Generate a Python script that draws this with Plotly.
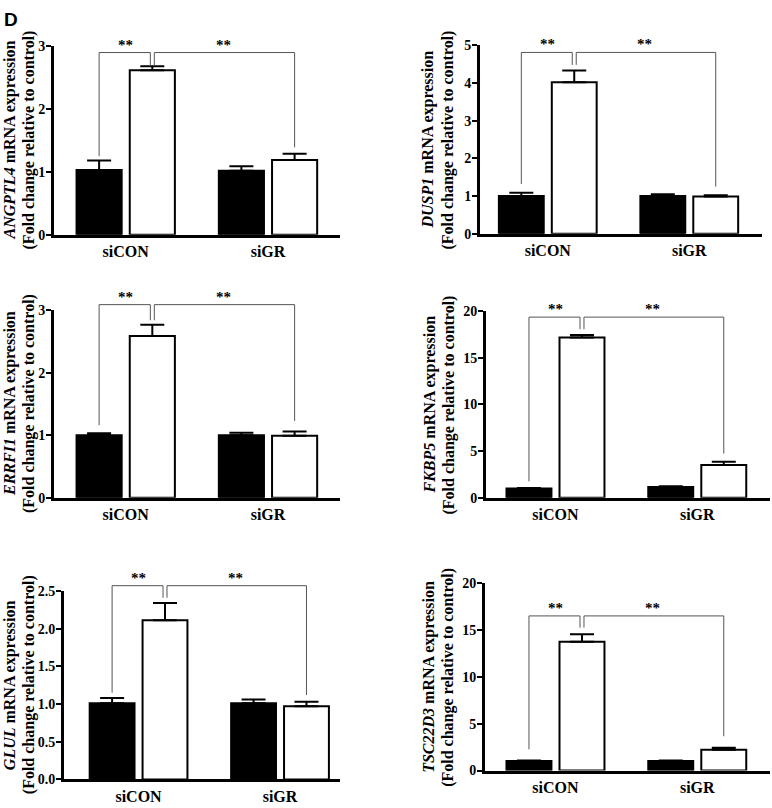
import plotly.graph_objects as go

W, H = 772, 808

groups = ['siCON', 'siGR']
genes = ['ANGPTL4', 'DUSP1', 'ERRFI1', 'FKBP5', 'GLUL', 'TSC22D3']

# black bars / white bars, with SEM (upper half only shown)
ANGPTL4_black = [1.03, 1.02]
ANGPTL4_black_err = [0.15, 0.07]
ANGPTL4_white = [2.62, 1.19]
ANGPTL4_white_err = [0.06, 0.10]

DUSP1_black = [1.00, 1.00]
DUSP1_black_err = [0.09, 0.05]
DUSP1_white = [4.02, 0.99]
DUSP1_white_err = [0.31, 0.03]

ERRFI1_black = [1.00, 1.00]
ERRFI1_black_err = [0.03, 0.04]
ERRFI1_white = [2.59, 0.99]
ERRFI1_white_err = [0.18, 0.07]

FKBP5_black = [0.98, 1.16]
FKBP5_black_err = [0.06, 0.06]
FKBP5_white = [17.19, 3.51]
FKBP5_white_err = [0.25, 0.35]

GLUL_black = [1.01, 1.01]
GLUL_black_err = [0.07, 0.05]
GLUL_white = [2.11, 0.97]
GLUL_white_err = [0.23, 0.06]

TSC22D3_black = [1.01, 1.01]
TSC22D3_black_err = [0.05, 0.05]
TSC22D3_white = [13.75, 2.23]
TSC22D3_white_err = [0.80, 0.20]

# y axis top and tick step
y_max = [3, 5, 3, 20, 2.5, 20]
y_dtick = [1, 1, 1, 5, 0.5, 5]
y_fmt = ['d', 'd', 'd', 'd', '.1f', 'd']

# significance brackets: top, left drop end, middle drop end, right drop end
bracket_top = [2.90, 4.81, 3.09, 19.37, 2.57, 16.5]
bracket_drops = [[1.25, 2.70, 1.39], [1.32, 4.48, 1.25], [1.16, 2.84, 1.23],
                 [1.75, 18.07, 4.74], [1.15, 2.41, 1.12], [2.27, 15.25, 3.66]]
sig_text = '**'

black_vals = [ANGPTL4_black, DUSP1_black, ERRFI1_black, FKBP5_black, GLUL_black, TSC22D3_black]
black_errs = [ANGPTL4_black_err, DUSP1_black_err, ERRFI1_black_err, FKBP5_black_err, GLUL_black_err, TSC22D3_black_err]
white_vals = [ANGPTL4_white, DUSP1_white, ERRFI1_white, FKBP5_white, GLUL_white, TSC22D3_white]
white_errs = [ANGPTL4_white_err, DUSP1_white_err, ERRFI1_white_err, FKBP5_white_err, GLUL_white_err, TSC22D3_white_err]

# panel boxes in pixels: x left, x right, y top, y bottom, x range
boxes = [(54, 340, 40, 232, -0.504, 1.506),
         (480, 762, 39, 231, -0.479, 1.514),
         (54, 340, 309, 500, -0.504, 1.506),
         (486, 770, 310, 500, -0.490, 1.513),
         (64, 340, 595, 787, -0.527, 1.424),
         (485, 770, 587, 778, -0.497, 1.513)]
# x centre (px) of the two y-title lines
title_x = [(10, 29), (428, 448), (10, 29), (430, 449), (10, 29), (429, 448)]

SERIF = 'Liberation Serif'
bargap = 0.252
off = (1 - bargap) / 4

fig = go.Figure()
shapes = []
annos = []

for i in range(6):
    k = '' if i == 0 else str(i + 1)
    xs = [0, 1]
    for vals, errs, fill in [(black_vals[i], black_errs[i], 'black'),
                             (white_vals[i], white_errs[i], 'white')]:
        fig.add_trace(go.Bar(
            x=xs, y=vals, xaxis='x' + k, yaxis='y' + k,
            marker=dict(color=fill, line=dict(color='black', width=2)),
            error_y=dict(type='data', array=errs, arrayminus=[0, 0], symmetric=False,
                         color='black', thickness=2, width=12),
            showlegend=False))

    x0, x1, yt, yb, xr0, xr1 = boxes[i]
    xd = [x0 / W, x1 / W]
    yd = [1 - yb / H, 1 - yt / H]
    fig.update_layout(**{
        'xaxis' + k: dict(domain=xd, range=[xr0, xr1], tickvals=xs, ticktext=groups,
                          showline=True, linecolor='black', linewidth=3, ticks='',
                          showgrid=False, zeroline=False, fixedrange=True,
                          tickfont=dict(family=SERIF, size=16, color='black', weight='bold'),
                          anchor='y' + k),
        'yaxis' + k: dict(domain=yd, range=[0, y_max[i]], dtick=y_dtick[i], tickformat=y_fmt[i],
                          showline=True, linecolor='black', linewidth=3,
                          ticks='outside', ticklen=5, tickwidth=2, tickcolor='black',
                          ticklabelstandoff=-2,
                          showgrid=False, zeroline=False, fixedrange=True,
                          tickfont=dict(family=SERIF, size=14, color='black', weight='bold'),
                          anchor='x' + k),
    })

    def py(v):
        return yd[0] + v / y_max[i] * (yd[1] - yd[0])

    top = py(bracket_top[i])
    dl, dm, dr = [py(v) for v in bracket_drops[i]]
    xb = 0 - off
    xw = 0 + off
    xg = 1 + off
    eps = 0.014
    line = dict(color='#555555', width=1)
    shapes.append(dict(type='path', xref='x' + k, yref='paper', line=line,
                       path=f'M {xb},{dl} L {xb},{top} L {xw - eps},{top} L {xw - eps},{dm}'))
    shapes.append(dict(type='path', xref='x' + k, yref='paper', line=line,
                       path=f'M {xw + eps},{dm} L {xw + eps},{top} L {xg},{top} L {xg},{dr}'))
    for xm in [(xb + xw) / 2, (xw + xg) / 2]:
        annos.append(dict(x=xm, y=top, xref='x' + k, yref='paper', text=sig_text,
                          showarrow=False, xanchor='center', yanchor='bottom', yshift=-2,
                          font=dict(family=SERIF, size=15, color='black', weight='bold')))

    lines = [f'<i>{genes[i]}</i> mRNA expression', '(Fold change relative to control)']
    for tx, txt in zip(title_x[i], lines):
        annos.append(dict(x=tx / W, y=(yd[0] + yd[1]) / 2, xref='paper', yref='paper',
                          text=txt, textangle=-90, showarrow=False,
                          xanchor='center', yanchor='middle',
                          font=dict(family=SERIF, size=16, color='black', weight='bold')))

annos.append(dict(x=2 / W, y=1, xref='paper', yref='paper', text='D',
                  showarrow=False, xanchor='left', yanchor='top',
                  font=dict(family='Liberation Sans', size=19, color='black', weight='bold')))

fig.update_layout(width=W, height=H, margin=dict(l=0, r=0, t=0, b=0),
                  paper_bgcolor='white', plot_bgcolor='white',
                  barmode='group', bargap=bargap, bargroupgap=0.152,
                  shapes=shapes, annotations=annos)

# page body has a default 8px margin; drop it so the figure sits at the window corner
fig.write_html("out.html", config={'displayModeBar': False},
               post_script="document.body.style.margin='0px';")
